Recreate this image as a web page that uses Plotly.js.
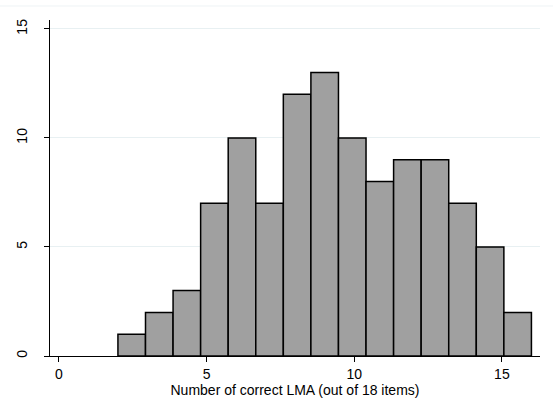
<!DOCTYPE html>
<html>
<head>
<meta charset="utf-8">
<script src="https://cdn.plot.ly/plotly-3.0.1.min.js"></script>
<style>html,body{margin:0;padding:0;background:#fff;}</style>
</head>
<body>
<div id="chart" style="width:553px;height:408px;"></div>
<script>
// Histogram counts (15 bins spanning 2 to 16)
const binMin = 2;
const binMax = 16;
const counts = [1, 2, 3, 7, 10, 7, 12, 13, 10, 8, 9, 9, 7, 5, 2];
const xTickVals = [0, 5, 10, 15];
const yTickVals = [0, 5, 10, 15];
const xTitle = "Number of correct LMA (out of 18 items)";

const binWidth = (binMax - binMin) / counts.length;
const leftEdges = counts.map((_, i) => binMin + i * binWidth);

const trace = {
  type: 'bar',
  x: leftEdges,
  y: counts,
  width: counts.map(() => binWidth),
  offset: 0,
  marker: {color: '#a0a0a0', line: {color: '#000000', width: 1.5}},
  hoverinfo: 'x+y'
};

const layout = {
  width: 553, height: 408,
  margin: {l: 50, r: 13, t: 20, b: 52},
  paper_bgcolor: '#ffffff', plot_bgcolor: '#ffffff',
  font: {family: 'Liberation Sans, Arial, sans-serif', size: 14, color: '#000'},
  showlegend: false,
  bargap: 0,
  xaxis: {
    range: [-0.3, 16.29],
    tickvals: xTickVals, ticktext: xTickVals.map(String),
    ticks: 'outside', ticklen: 5, tickcolor: '#000', tickwidth: 1,
    showline: true, linecolor: '#000', linewidth: 1,
    showgrid: false, zeroline: false,
    tickfont: {size: 14},
    title: {text: xTitle, font: {size: 14}, standoff: 0}
  },
  yaxis: {
    range: [0, 15.41],
    tickvals: yTickVals, ticktext: yTickVals.map(String),
    tickangle: -90,
    ticks: 'outside', ticklen: 5, tickcolor: '#000', tickwidth: 1,
    ticklabelstandoff: 11,
    showline: true, linecolor: '#000', linewidth: 1,
    showgrid: true, gridcolor: '#e8f0f2', gridwidth: 1,
    zeroline: false,
    tickfont: {size: 14}
  },
  shapes: [{
    type: 'line', xref: 'paper', yref: 'paper',
    x0: -0.2, x1: 1.1, y0: 1.0417, y1: 1.0417,
    line: {color: '#eef3f5', width: 1}
  }]
};

Plotly.newPlot('chart', [trace], layout, {displayModeBar: false, staticPlot: true});
</script>
</body>
</html>
